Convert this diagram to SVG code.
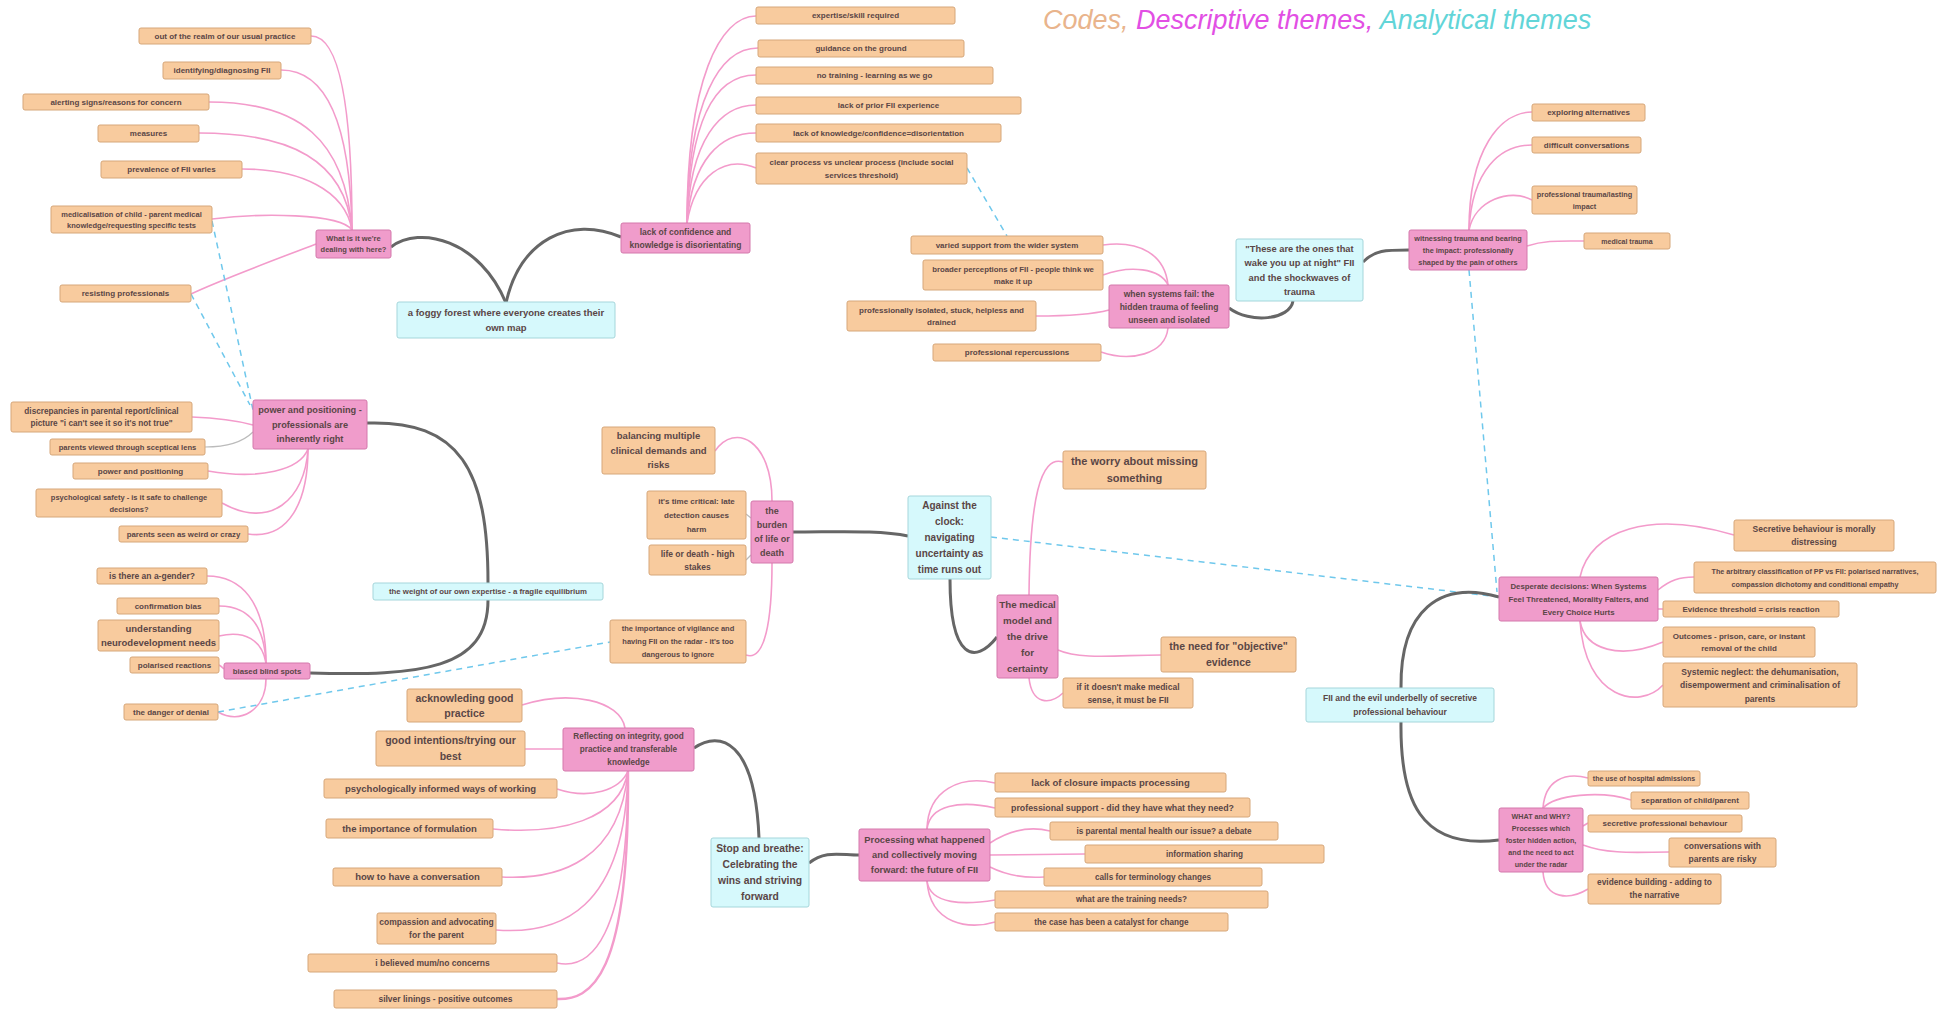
<svg xmlns="http://www.w3.org/2000/svg" width="1948" height="1010" viewBox="0 0 1948 1010">
<style>
.c{fill:#F8CB9E;stroke:#D6A77A;stroke-width:1}
.p{fill:#F09CCB;stroke:#D479AC;stroke-width:1}
.a{fill:#D6F9FC;stroke:#A5D6DB;stroke-width:1}
text{font-family:"Liberation Sans",Arial,sans-serif;font-weight:bold;fill:#5a4646;text-anchor:middle}
.lp{fill:none;stroke:#F39BCB;stroke-width:1.6}
.lg{fill:none;stroke:#666;stroke-width:3}
.ls{fill:none;stroke:#bbb;stroke-width:1.2}
.ld{fill:none;stroke:#6FC8EC;stroke-width:1.5;stroke-dasharray:6 5}
</style>
<rect width="1948" height="1010" fill="#fff"/>
<text x="1043" y="29" style="font-size:27px;font-style:italic;font-weight:normal;text-anchor:start"><tspan fill="#E9B48C">Codes, </tspan><tspan fill="#E24FE4">Descriptive themes, </tspan><tspan fill="#62D5D8">Analytical themes</tspan></text>
<g id="connectors">
<path class="lp" d="M352,230 C352,110 340,36 311,36"/>
<path class="lp" d="M352,230 C350,120 325,70 281,70"/>
<path class="lp" d="M352,230 C345,140 300,102 209,102"/>
<path class="lp" d="M352,230 C345,160 290,133 199,133"/>
<path class="lp" d="M352,230 C345,190 300,169 242,169"/>
<path class="lp" d="M352,230 C340,213 260,213 212,219"/>
<path class="lp" d="M316,244 C280,258 220,280 191,294"/>
<path class="lg" d="M391,247 C420,225 480,240 506,303"/>
<path class="lg" d="M506,303 C520,240 570,215 621,237"/>
<path class="lp" d="M687,223 C687,80 720,16 756,16"/>
<path class="lp" d="M687,223 C688,100 720,48 758,48"/>
<path class="lp" d="M687,223 C690,110 720,75 756,75"/>
<path class="lp" d="M687,223 C690,140 720,105 756,105"/>
<path class="lp" d="M687,223 C692,160 720,133 756,133"/>
<path class="lp" d="M687,223 C695,175 725,155 756,168"/>
<path class="ld" d="M967,168 L1007,236"/>
<path class="lg" d="M1363,262 C1375,250 1385,250 1409,250"/>
<path class="lg" d="M1293,301 C1290,320 1250,324 1229,308"/>
<path class="lp" d="M1469,230 C1469,150 1500,112 1532,112"/>
<path class="lp" d="M1469,230 C1472,170 1500,145 1532,145"/>
<path class="lp" d="M1469,230 C1475,200 1510,188 1532,200"/>
<path class="lp" d="M1527,246 C1545,240 1560,241 1584,241"/>
<path class="lp" d="M1168,285 C1165,255 1140,240 1103,245"/>
<path class="lp" d="M1168,285 C1160,268 1130,265 1103,275"/>
<path class="lp" d="M1109,310 C1090,315 1060,316 1036,316"/>
<path class="lp" d="M1168,328 C1165,355 1130,362 1101,352"/>
<path class="ld" d="M1469,270 L1497,592"/>
<path class="ld" d="M991,537 L1499,597"/>
<path class="lg" d="M367,423 C460,420 488,470 488,583"/>
<path class="lg" d="M488,600 C488,670 420,676 310,673"/>
<path class="lp" d="M192,417 C220,418 235,420 253,425"/>
<path class="ls" d="M205,447 C230,447 245,440 253,432"/>
<path class="lp" d="M208,471 C260,480 300,470 308,449"/>
<path class="lp" d="M222,503 C270,530 305,500 308,449"/>
<path class="lp" d="M248,534 C290,540 308,500 308,449"/>
<path class="lp" d="M266,663 C266,600 240,576 207,576"/>
<path class="lp" d="M266,663 C264,620 245,606 219,606"/>
<path class="lp" d="M266,663 C262,640 245,630 219,636"/>
<path class="lp" d="M224,669 C222,667 221,666 219,665"/>
<path class="lp" d="M266,679 C266,710 240,725 218,712"/>
<path class="ld" d="M218,712 L610,642"/>
<path class="ld" d="M212,221 L253,410"/>
<path class="ld" d="M191,294 L250,405"/>
<path class="lp" d="M772,501 C772,440 735,422 715,451"/>
<path class="ls" d="M746,514 L751,518"/>
<path class="ls" d="M746,560 L751,555"/>
<path class="lp" d="M772,563 C772,620 765,662 746,655"/>
<path class="lg" d="M793,532 C840,532 880,530 908,536"/>
<path class="lg" d="M950,579 C950,660 975,665 997,637"/>
<path class="lp" d="M1029,595 C1030,500 1040,455 1063,462"/>
<path class="lp" d="M1058,650 C1080,660 1120,655 1161,655"/>
<path class="lp" d="M1029,678 C1032,705 1050,705 1063,693"/>
<path class="lg" d="M1401,688 C1400,610 1440,580 1499,597"/>
<path class="lp" d="M1580,577 C1590,530 1650,510 1734,535"/>
<path class="lp" d="M1658,590 C1670,580 1680,577 1694,577"/>
<path class="lp" d="M1658,609 L1663,609"/>
<path class="lp" d="M1580,621 C1585,650 1620,660 1663,642"/>
<path class="lp" d="M1580,621 C1585,700 1640,710 1663,685"/>
<path class="lg" d="M1401,722 C1400,800 1420,850 1499,840"/>
<path class="lp" d="M1543,808 C1545,780 1565,772 1588,778"/>
<path class="lp" d="M1543,808 C1555,795 1600,790 1631,800"/>
<path class="lp" d="M1583,826 L1588,823"/>
<path class="lp" d="M1583,845 C1610,855 1640,852 1669,852"/>
<path class="lp" d="M1543,872 C1545,900 1570,900 1588,889"/>
<path class="lg" d="M694,748 C720,730 755,740 759,838"/>
<path class="lp" d="M625,728 C620,700 570,690 522,705"/>
<path class="lp" d="M563,749 L525,749"/>
<path class="lp" d="M628,771 C620,790 590,800 557,789"/>
<path class="lp" d="M628,771 C620,820 560,835 493,829"/>
<path class="lp" d="M628,771 C620,860 560,880 502,877"/>
<path class="lp" d="M628,771 C625,910 560,935 496,930"/>
<path class="lp" d="M628,771 C628,940 590,970 557,963"/>
<path class="lp" d="M628,771 C630,980 590,1000 557,999" style="stroke-width:2.4"/>
<path class="lg" d="M809,863 C825,850 840,855 859,855"/>
<path class="lp" d="M927,829 C928,790 960,775 995,783"/>
<path class="lp" d="M927,829 C930,805 960,800 995,808"/>
<path class="lp" d="M990,843 C1010,830 1030,826 1050,831"/>
<path class="lp" d="M990,855 L1085,854"/>
<path class="lp" d="M990,867 C1010,877 1030,878 1044,877"/>
<path class="lp" d="M927,881 C930,905 965,905 995,900"/>
<path class="lp" d="M927,881 C930,925 970,930 995,922"/>
</g>
<g id="n-realm"><rect class="c" x="139" y="28" width="172" height="16" rx="2"/><text x="225" y="38.8" font-size="8">out of the realm of our usual practice</text></g>
<g id="n-ident"><rect class="c" x="163" y="62" width="118" height="17" rx="2"/><text x="222" y="73.3" font-size="8">identifying/diagnosing FII</text></g>
<g id="n-alert"><rect class="c" x="23" y="94" width="186" height="16" rx="2"/><text x="116" y="104.8" font-size="8">alerting signs/reasons for concern</text></g>
<g id="n-measures"><rect class="c" x="98" y="125" width="101" height="17" rx="2"/><text x="148.5" y="136.3" font-size="8">measures</text></g>
<g id="n-prev"><rect class="c" x="101" y="161" width="141" height="17" rx="2"/><text x="171.5" y="172.3" font-size="8">prevalence of FII varies</text></g>
<g id="n-medicalisation"><rect class="c" x="51" y="206" width="161" height="27" rx="2"/><text x="131.5" font-size="7.5"><tspan x="131.5" y="216.6">medicalisation of child - parent medical</tspan><tspan x="131.5" y="227.6">knowledge/requesting specific tests</tspan></text></g>
<g id="n-what"><rect class="p" x="316" y="230" width="75" height="28" rx="2"/><text font-size="7.5"><tspan x="353.5" y="241.1">What is it we're</tspan><tspan x="353.5" y="252.1">dealing with here?</tspan></text></g>
<g id="n-resist"><rect class="c" x="60" y="285" width="131" height="17" rx="2"/><text x="125.5" y="296.3" font-size="8">resisting professionals</text></g>
<g id="n-foggy"><rect class="a" x="397" y="302" width="218" height="36" rx="2"/><text font-size="9.5"><tspan x="506" y="315.8">a foggy forest where everyone creates their</tspan><tspan x="506" y="330.8">own map</tspan></text></g>
<g id="n-expert"><rect class="c" x="756" y="7" width="199" height="17" rx="2"/><text x="855.5" y="18.3" font-size="8">expertise/skill required</text></g>
<g id="n-guid"><rect class="c" x="758" y="40" width="206" height="17" rx="2"/><text x="861" y="51.3" font-size="8">guidance on the ground</text></g>
<g id="n-notrain"><rect class="c" x="756" y="67" width="237" height="17" rx="2"/><text x="874.5" y="78.3" font-size="8">no training - learning as we go</text></g>
<g id="n-prior"><rect class="c" x="756" y="97" width="265" height="17" rx="2"/><text x="888.5" y="108.3" font-size="8">lack of prior FII experience</text></g>
<g id="n-knowl"><rect class="c" x="756" y="124" width="245" height="18" rx="2"/><text x="878.5" y="135.8" font-size="8">lack of knowledge/confidence=disorientation</text></g>
<g id="n-clear"><rect class="c" x="756" y="153" width="211" height="31" rx="2"/><text font-size="8"><tspan x="861.5" y="165.3">clear process vs unclear process (include social</tspan><tspan x="861.5" y="178.3">services threshold)</tspan></text></g>
<g id="n-lackconf"><rect class="p" x="621" y="223" width="129" height="30" rx="2"/><text font-size="8.5"><tspan x="685.5" y="234.5">lack of confidence and</tspan><tspan x="685.5" y="247.5">knowledge is disorientating</tspan></text></g>
<g id="n-explore"><rect class="c" x="1532" y="104" width="113" height="17" rx="2"/><text x="1588.5" y="115.3" font-size="8">exploring alternatives</text></g>
<g id="n-difficult"><rect class="c" x="1532" y="137" width="109" height="16" rx="2"/><text x="1586.5" y="147.8" font-size="8">difficult conversations</text></g>
<g id="n-proftrauma"><rect class="c" x="1532" y="186" width="105" height="28" rx="2"/><text font-size="7.3"><tspan x="1584.5" y="196.6">professional trauma/lasting</tspan><tspan x="1584.5" y="208.6">impact</tspan></text></g>
<g id="n-medtrauma"><rect class="c" x="1584" y="233" width="86" height="16" rx="2"/><text x="1627" y="243.5" font-size="7">medical trauma</text></g>
<g id="n-witness"><rect class="p" x="1409" y="230" width="118" height="40" rx="2"/><text font-size="7.3"><tspan x="1468" y="240.6">witnessing trauma and bearing</tspan><tspan x="1468" y="252.6">the impact: professionally</tspan><tspan x="1468" y="264.6">shaped by the pain of others</tspan></text></g>
<g id="n-these"><rect class="a" x="1236" y="239" width="127" height="62" rx="2"/><text font-size="9.3"><tspan x="1299.5" y="251.5">"These are the ones that</tspan><tspan x="1299.5" y="266">wake you up at night" FII</tspan><tspan x="1299.5" y="280.5">and the shockwaves of</tspan><tspan x="1299.5" y="295">trauma</tspan></text></g>
<g id="n-systems"><rect class="p" x="1109" y="285" width="120" height="43" rx="2"/><text font-size="8.5"><tspan x="1169" y="296.5">when systems fail: the</tspan><tspan x="1169" y="309.5">hidden trauma of feeling</tspan><tspan x="1169" y="322.5">unseen and isolated</tspan></text></g>
<g id="n-varied"><rect class="c" x="911" y="236" width="192" height="18" rx="2"/><text x="1007" y="247.8" font-size="8">varied support from the wider system</text></g>
<g id="n-broader"><rect class="c" x="923" y="260" width="180" height="30" rx="2"/><text font-size="7.8"><tspan x="1013" y="271.5">broader perceptions of FII - people think we</tspan><tspan x="1013" y="284">make it up</tspan></text></g>
<g id="n-isolated"><rect class="c" x="847" y="301" width="189" height="30" rx="2"/><text font-size="8"><tspan x="941.5" y="312.6">professionally isolated, stuck, helpless and</tspan><tspan x="941.5" y="325.1">drained</tspan></text></g>
<g id="n-repercussions"><rect class="c" x="933" y="344" width="168" height="17" rx="2"/><text x="1017" y="355.3" font-size="8">professional repercussions</text></g>
<g id="n-discrep"><rect class="c" x="11" y="402" width="181" height="30" rx="2"/><text font-size="8.2"><tspan x="101.5" y="413.6">discrepancies in parental report/clinical</tspan><tspan x="101.5" y="426.1">picture "i can't see it so it's not true"</tspan></text></g>
<g id="n-sceptical"><rect class="c" x="50" y="439" width="155" height="16" rx="2"/><text x="127.5" y="449.7" font-size="7.6">parents viewed through sceptical lens</text></g>
<g id="n-powercode"><rect class="c" x="73" y="463" width="135" height="16" rx="2"/><text x="140.5" y="473.8" font-size="8">power and positioning</text></g>
<g id="n-psych"><rect class="c" x="36" y="489" width="186" height="28" rx="2"/><text font-size="7.5"><tspan x="129" y="499.6">psychological safety - is it safe to challenge</tspan><tspan x="129" y="511.6">decisions?</tspan></text></g>
<g id="n-weird"><rect class="c" x="119" y="526" width="129" height="16" rx="2"/><text x="183.5" y="536.7" font-size="7.8">parents seen as weird or crazy</text></g>
<g id="n-power"><rect class="p" x="253" y="400" width="114" height="49" rx="2"/><text font-size="9.2"><tspan x="310" y="413.2">power and positioning -</tspan><tspan x="310" y="427.7">professionals are</tspan><tspan x="310" y="442.2">inherently right</tspan></text></g>
<g id="n-agender"><rect class="c" x="97" y="568" width="110" height="16" rx="2"/><text x="152" y="579" font-size="8.5">is there an a-gender?</text></g>
<g id="n-confirm"><rect class="c" x="117" y="598" width="102" height="16" rx="2"/><text x="168" y="608.8" font-size="8">confirmation bias</text></g>
<g id="n-neuro"><rect class="c" x="98" y="620" width="121" height="31" rx="2"/><text font-size="9.5"><tspan x="158.5" y="632.1">understanding</tspan><tspan x="158.5" y="645.6">neurodevelopment needs</tspan></text></g>
<g id="n-polar"><rect class="c" x="130" y="657" width="89" height="16" rx="2"/><text x="174.5" y="667.8" font-size="8">polarised reactions</text></g>
<g id="n-biased"><rect class="p" x="224" y="663" width="86" height="16" rx="2"/><text x="267" y="673.7" font-size="7.8">biased blind spots</text></g>
<g id="n-denial"><rect class="c" x="124" y="704" width="94" height="16" rx="2"/><text x="171" y="714.8" font-size="8">the danger of denial</text></g>
<g id="n-weight"><rect class="a" x="373" y="583" width="230" height="17" rx="2"/><text x="488" y="594.2" font-size="7.8">the weight of our own expertise - a fragile equilibrium</text></g>
<g id="n-balancing"><rect class="c" x="602" y="427" width="113" height="47" rx="2"/><text font-size="9.5"><tspan x="658.5" y="439.3">balancing multiple</tspan><tspan x="658.5" y="453.8">clinical demands and</tspan><tspan x="658.5" y="468.3">risks</tspan></text></g>
<g id="n-timecrit"><rect class="c" x="647" y="491" width="99" height="48" rx="2"/><text font-size="8"><tspan x="696.5" y="503.8">it's time critical: late</tspan><tspan x="696.5" y="517.8">detection causes</tspan><tspan x="696.5" y="531.8">harm</tspan></text></g>
<g id="n-lifedeath"><rect class="c" x="649" y="545" width="97" height="30" rx="2"/><text font-size="8.5"><tspan x="697.5" y="556.5">life or death - high</tspan><tspan x="697.5" y="569.5">stakes</tspan></text></g>
<g id="n-burden"><rect class="p" x="751" y="501" width="42" height="62" rx="2"/><text font-size="9"><tspan x="772" y="514.2">the</tspan><tspan x="772" y="528.2">burden</tspan><tspan x="772" y="542.2">of life or</tspan><tspan x="772" y="556.2">death</tspan></text></g>
<g id="n-vigilance"><rect class="c" x="610" y="620" width="136" height="43" rx="2"/><text font-size="7.5"><tspan x="678" y="631.1">the importance of vigilance and</tspan><tspan x="678" y="644.1">having FII on the radar - it's too</tspan><tspan x="678" y="657.1">dangerous to ignore</tspan></text></g>
<g id="n-clock"><rect class="a" x="908" y="496" width="83" height="83" rx="2"/><text font-size="10"><tspan x="949.5" y="509">Against the</tspan><tspan x="949.5" y="525">clock:</tspan><tspan x="949.5" y="541">navigating</tspan><tspan x="949.5" y="557">uncertainty as</tspan><tspan x="949.5" y="573">time runs out</tspan></text></g>
<g id="n-worry"><rect class="c" x="1063" y="451" width="143" height="38" rx="2"/><text font-size="11"><tspan x="1134.5" y="465">the worry about missing</tspan><tspan x="1134.5" y="482">something</tspan></text></g>
<g id="n-medmodel"><rect class="p" x="997" y="595" width="61" height="83" rx="2"/><text font-size="9.8"><tspan x="1027.5" y="608">The medical</tspan><tspan x="1027.5" y="624">model and</tspan><tspan x="1027.5" y="640">the drive</tspan><tspan x="1027.5" y="656">for</tspan><tspan x="1027.5" y="672">certainty</tspan></text></g>
<g id="n-need"><rect class="c" x="1161" y="637" width="135" height="35" rx="2"/><text font-size="10.5"><tspan x="1228.5" y="650.2">the need for "objective"</tspan><tspan x="1228.5" y="666.2">evidence</tspan></text></g>
<g id="n-ifit"><rect class="c" x="1063" y="678" width="130" height="30" rx="2"/><text font-size="8.5"><tspan x="1128" y="689.5">if it doesn't make medical</tspan><tspan x="1128" y="702.5">sense, it must be FII</tspan></text></g>
<g id="n-secretive"><rect class="c" x="1734" y="520" width="160" height="31" rx="2"/><text font-size="8.5"><tspan x="1814" y="532">Secretive behaviour is morally</tspan><tspan x="1814" y="545">distressing</tspan></text></g>
<g id="n-arbitrary"><rect class="c" x="1694" y="562" width="242" height="31" rx="2"/><text font-size="7.2"><tspan x="1815" y="573.5">The arbitrary classification of PP vs FII: polarised narratives,</tspan><tspan x="1815" y="586.5">compassion dichotomy and conditional empathy</tspan></text></g>
<g id="n-evidence"><rect class="c" x="1663" y="601" width="176" height="16" rx="2"/><text x="1751" y="611.8" font-size="8">Evidence threshold = crisis reaction</text></g>
<g id="n-outcomes"><rect class="c" x="1663" y="627" width="152" height="30" rx="2"/><text font-size="8"><tspan x="1739" y="638.6">Outcomes - prison, care, or instant</tspan><tspan x="1739" y="651.1">removal of the child</tspan></text></g>
<g id="n-systemic"><rect class="c" x="1663" y="663" width="194" height="44" rx="2"/><text font-size="8.5"><tspan x="1760" y="674.5">Systemic neglect: the dehumanisation,</tspan><tspan x="1760" y="688">disempowerment and criminalisation of</tspan><tspan x="1760" y="701.5">parents</tspan></text></g>
<g id="n-desperate"><rect class="p" x="1499" y="577" width="159" height="44" rx="2"/><text font-size="7.8"><tspan x="1578.5" y="588.7">Desperate decisions: When Systems</tspan><tspan x="1578.5" y="601.7">Feel Threatened, Morality Falters, and</tspan><tspan x="1578.5" y="614.7">Every Choice Hurts</tspan></text></g>
<g id="n-evil"><rect class="a" x="1306" y="688" width="188" height="34" rx="2"/><text font-size="8.5"><tspan x="1400" y="701.2">FII and the evil underbelly of secretive</tspan><tspan x="1400" y="714.7">professional behaviour</tspan></text></g>
<g id="n-acknow"><rect class="c" x="407" y="689" width="115" height="33" rx="2"/><text font-size="10.5"><tspan x="464.5" y="701.7">acknowleding good</tspan><tspan x="464.5" y="716.7">practice</tspan></text></g>
<g id="n-goodint"><rect class="c" x="376" y="731" width="149" height="35" rx="2"/><text font-size="10.5"><tspan x="450.5" y="744.2">good intentions/trying our</tspan><tspan x="450.5" y="760.2">best</tspan></text></g>
<g id="n-psychinf"><rect class="c" x="324" y="779" width="233" height="19" rx="2"/><text x="440.5" y="791.8" font-size="9.5">psychologically informed ways of working</text></g>
<g id="n-formul"><rect class="c" x="326" y="819" width="167" height="19" rx="2"/><text x="409.5" y="831.8" font-size="9.5">the importance of formulation</text></g>
<g id="n-howto"><rect class="c" x="333" y="868" width="169" height="18" rx="2"/><text x="417.5" y="880.3" font-size="9.5">how to have a conversation</text></g>
<g id="n-compassion"><rect class="c" x="377" y="913" width="119" height="31" rx="2"/><text font-size="8.5"><tspan x="436.5" y="924.8">compassion and advocating</tspan><tspan x="436.5" y="938.3">for the parent</tspan></text></g>
<g id="n-believed"><rect class="c" x="308" y="954" width="249" height="18" rx="2"/><text x="432.5" y="966" font-size="8.5">i believed mum/no concerns</text></g>
<g id="n-silver"><rect class="c" x="334" y="990" width="223" height="18" rx="2"/><text x="445.5" y="1002" font-size="8.5">silver linings - positive outcomes</text></g>
<g id="n-reflect"><rect class="p" x="563" y="728" width="131" height="43" rx="2"/><text font-size="8.2"><tspan x="628.5" y="739.4">Reflecting on integrity, good</tspan><tspan x="628.5" y="752.4">practice and transferable</tspan><tspan x="628.5" y="765.4">knowledge</tspan></text></g>
<g id="n-stop"><rect class="a" x="711" y="838" width="98" height="69" rx="2"/><text font-size="10.3"><tspan x="760" y="852.1">Stop and breathe:</tspan><tspan x="760" y="868.1">Celebrating the</tspan><tspan x="760" y="884.1">wins and striving</tspan><tspan x="760" y="900.1">forward</tspan></text></g>
<g id="n-closure"><rect class="c" x="995" y="773" width="231" height="19" rx="2"/><text x="1110.5" y="785.8" font-size="9.5">lack of closure impacts processing</text></g>
<g id="n-support"><rect class="c" x="995" y="798" width="255" height="19" rx="2"/><text x="1122.5" y="810.6" font-size="8.8">professional support - did they have what they need?</text></g>
<g id="n-parental"><rect class="c" x="1050" y="822" width="228" height="18" rx="2"/><text x="1164" y="833.9" font-size="8.2">is parental mental health our issue? a debate</text></g>
<g id="n-info"><rect class="c" x="1085" y="845" width="239" height="18" rx="2"/><text x="1204.5" y="856.9" font-size="8.2">information sharing</text></g>
<g id="n-termin"><rect class="c" x="1044" y="868" width="218" height="18" rx="2"/><text x="1153" y="879.9" font-size="8.2">calls for terminology changes</text></g>
<g id="n-training"><rect class="c" x="995" y="891" width="273" height="17" rx="2"/><text x="1131.5" y="902.4" font-size="8.2">what are the training needs?</text></g>
<g id="n-catalyst"><rect class="c" x="995" y="913" width="233" height="18" rx="2"/><text x="1111.5" y="924.9" font-size="8.2">the case has been a catalyst for change</text></g>
<g id="n-process"><rect class="p" x="859" y="829" width="131" height="52" rx="2"/><text font-size="9.3"><tspan x="924.5" y="843.3">Processing what happened</tspan><tspan x="924.5" y="858.3">and collectively moving</tspan><tspan x="924.5" y="873.3">forward: the future of FII</tspan></text></g>
<g id="n-hospital"><rect class="c" x="1588" y="771" width="112" height="15" rx="2"/><text x="1644" y="781" font-size="7">the use of hospital admissions</text></g>
<g id="n-separation"><rect class="c" x="1631" y="792" width="118" height="17" rx="2"/><text x="1690" y="803.3" font-size="8">separation of child/parent</text></g>
<g id="n-secretprof"><rect class="c" x="1588" y="815" width="154" height="17" rx="2"/><text x="1665" y="826.3" font-size="8">secretive professional behaviour</text></g>
<g id="n-conversations"><rect class="c" x="1669" y="838" width="107" height="29" rx="2"/><text font-size="8.5"><tspan x="1722.5" y="849">conversations with</tspan><tspan x="1722.5" y="862">parents are risky</tspan></text></g>
<g id="n-evbuild"><rect class="c" x="1588" y="874" width="133" height="30" rx="2"/><text font-size="8.3"><tspan x="1654.5" y="885.4">evidence building - adding to</tspan><tspan x="1654.5" y="898.4">the narrative</tspan></text></g>
<g id="n-whatwhy"><rect class="p" x="1499" y="808" width="84" height="64" rx="2"/><text font-size="7.2"><tspan x="1541" y="818.5">WHAT and WHY?</tspan><tspan x="1541" y="830.5">Processes which</tspan><tspan x="1541" y="842.5">foster hidden action,</tspan><tspan x="1541" y="854.5">and the need to act</tspan><tspan x="1541" y="866.5">under the radar</tspan></text></g>
</svg>
